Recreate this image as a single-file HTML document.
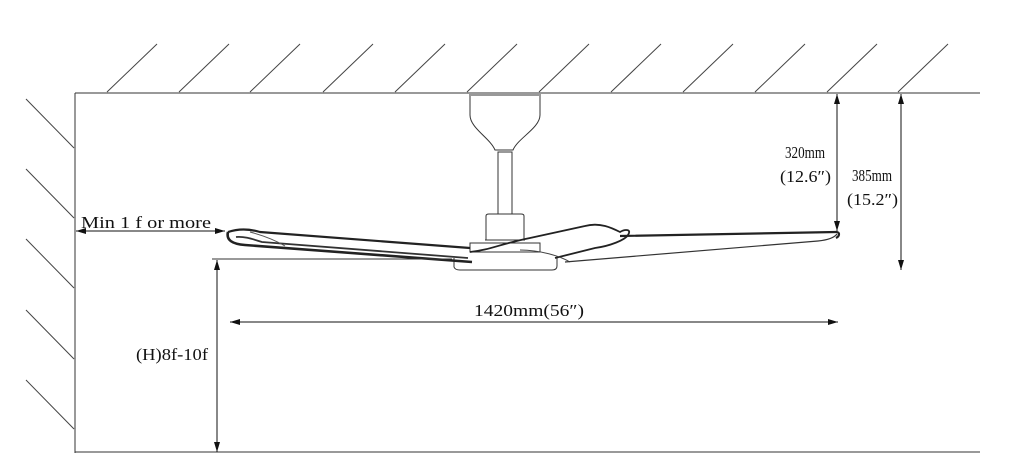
<!DOCTYPE html>
<html><head><meta charset="utf-8"><style>
html,body{margin:0;padding:0;background:#fff;}
svg{display:block}
text{font-family:"Liberation Serif","Noto Serif CJK SC",serif;font-size:17px;fill:#111;}
</style></head><body>
<svg width="1024" height="472" viewBox="0 0 1024 472" xmlns="http://www.w3.org/2000/svg">
<defs>
<marker id="a" viewBox="0 0 10 6" refX="10" refY="3" markerWidth="10" markerHeight="6" orient="auto-start-reverse" markerUnits="userSpaceOnUse"><path d="M0,0 L10,3 L0,6 z" fill="#111"/></marker>
</defs>
<g stroke="#333" stroke-width="1" fill="none">
<line x1="75" y1="93" x2="980" y2="93"/>
<line x1="75" y1="93" x2="75" y2="453"/>
<line x1="75" y1="452" x2="980" y2="452"/>
<g stroke="#444">
<line x1="107" y1="92" x2="157" y2="44"/>
<line x1="179" y1="92" x2="229" y2="44"/>
<line x1="250" y1="92" x2="300" y2="44"/>
<line x1="323" y1="92" x2="373" y2="44"/>
<line x1="395" y1="92" x2="445" y2="44"/>
<line x1="467" y1="92" x2="517" y2="44"/>
<line x1="539" y1="92" x2="589" y2="44"/>
<line x1="611" y1="92" x2="661" y2="44"/>
<line x1="683" y1="92" x2="733" y2="44"/>
<line x1="755" y1="92" x2="805" y2="44"/>
<line x1="827" y1="92" x2="877" y2="44"/>
<line x1="898" y1="92" x2="948" y2="44"/>
<line x1="26" y1="99" x2="74" y2="148"/>
<line x1="26" y1="169" x2="74" y2="218"/>
<line x1="26" y1="239" x2="74" y2="288"/>
<line x1="26" y1="310" x2="74" y2="359"/>
<line x1="26" y1="380" x2="74" y2="429"/>
</g>
<path d="M470,94 L470,115 C470,128 490,138 495,150 L513,150 C518,138 540,128 540,115 L540,94" stroke="#333"/>
<line x1="470" y1="95" x2="540" y2="95" stroke="#999" stroke-width="2"/>
<rect x="498" y="152" width="14" height="62"/>
<path d="M486,240 L486,216 Q486,214 489,214 L521,214 Q524,214 524,216 L524,240 Z"/>
<line x1="485" y1="240" x2="525" y2="240"/>
<rect x="470" y="243" width="70" height="9"/>
<path d="M454,258 L454,267 Q455,270 460,270 L552,270 Q557,270 557,266 L557,258"/>
<path d="M228,232 C240,228 250,229 260,232 L470,248" stroke="#222" stroke-width="2.2"/>
<path d="M228,232 C226,240 232,244 245,245 L472,262" stroke="#222" stroke-width="2.6"/>
<path d="M236,237 C245,236 255,240 262,242 L468,258" stroke="#333" stroke-width="1.8"/>
<path d="M250,232 C265,236 275,240 285,246" stroke="#555"/>
<path d="M470,252 C490,250 500,244 530,238 L585,226 C600,222 612,228 620,232 C625,229 632,229 628,235 C625,240 610,246 595,248 L555,258" stroke="#222" stroke-width="1.8"/>
<path d="M520,250 C540,250 560,256 570,262" stroke="#444"/>
<path d="M620,236 L836,232 C840,232 840,236 836,238" stroke="#222" stroke-width="2.2"/>
<path d="M565,262 L818,241 C828,240 834,238 837,234" stroke="#333" stroke-width="1.2"/>
<line x1="212" y1="259" x2="452" y2="259"/>
</g>
<g stroke="#111" stroke-width="1" fill="none">
<line x1="76" y1="231" x2="225" y2="231" marker-start="url(#a)" marker-end="url(#a)"/>
<line x1="217" y1="260" x2="217" y2="452" marker-start="url(#a)" marker-end="url(#a)"/>
<line x1="230" y1="322" x2="838" y2="322" marker-start="url(#a)" marker-end="url(#a)"/>
<line x1="837" y1="94" x2="837" y2="231" marker-start="url(#a)" marker-end="url(#a)"/>
<line x1="901" y1="94" x2="901" y2="270" marker-start="url(#a)" marker-end="url(#a)"/>
</g>
<text x="81" y="228" textLength="130" lengthAdjust="spacingAndGlyphs">Min 1 f or more</text>
<text x="474" y="316" textLength="110" lengthAdjust="spacingAndGlyphs">1420mm(56″)</text>
<text x="136" y="360" textLength="72" lengthAdjust="spacingAndGlyphs">(H)8f-10f</text>
<text x="785" y="158" textLength="40" lengthAdjust="spacingAndGlyphs">320mm</text>
<text x="780" y="182" textLength="51" lengthAdjust="spacingAndGlyphs">(12.6″)</text>
<text x="852" y="181" textLength="40" lengthAdjust="spacingAndGlyphs">385mm</text>
<text x="847" y="205" textLength="51" lengthAdjust="spacingAndGlyphs">(15.2″)</text>
</svg>
</body></html>
